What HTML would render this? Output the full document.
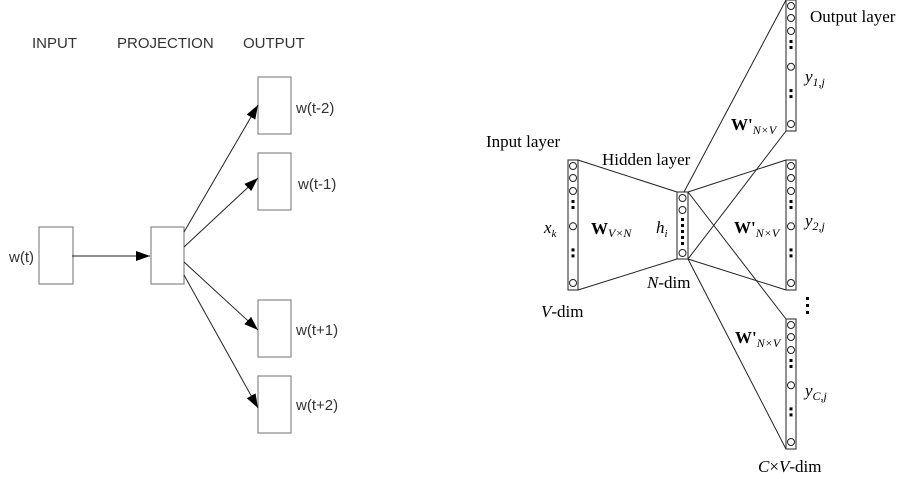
<!DOCTYPE html>
<html><head><meta charset="utf-8"><style>
html,body{margin:0;padding:0;background:#fff;}
svg{display:block;}
.s{font-family:"Liberation Sans",sans-serif;font-size:15px;fill:#333;}
.r{font-family:"Liberation Serif",serif;font-size:17px;fill:#000;}
.b{stroke:#888;stroke-width:1.2;fill:#fff;}
.l{stroke:#222;stroke-width:1;fill:none;}
.c{stroke:#222;stroke-width:1;fill:#fff;}
</style></head><body>
<svg width="913" height="479" viewBox="0 0 913 479">
<defs><marker id="ar" markerWidth="14" markerHeight="10" refX="14" refY="5" orient="auto" markerUnits="userSpaceOnUse"><path d="M0,0 L14,5 L0,10 z" fill="#000"/></marker></defs>
<g>
<text class="s" x="32" y="48">INPUT</text>
<text class="s" x="117" y="48">PROJECTION</text>
<text class="s" x="243" y="48">OUTPUT</text>
<rect class="b" x="39" y="227" width="34" height="57"/>
<rect class="b" x="151" y="227" width="33" height="57"/>
<rect class="b" x="258" y="77" width="33" height="57"/>
<rect class="b" x="258" y="153" width="33" height="57"/>
<rect class="b" x="258" y="300" width="33" height="57"/>
<rect class="b" x="258" y="376" width="33" height="57"/>
<text class="s" x="9" y="262">w(t)</text>
<text class="s" x="296" y="113">w(t-2)</text>
<text class="s" x="298" y="189">w(t-1)</text>
<text class="s" x="296" y="335">w(t+1)</text>
<text class="s" x="296" y="410">w(t+2)</text>
<line class="l" x1="72" y1="256" x2="150" y2="256" marker-end="url(#ar)"/>
<line class="l" x1="184" y1="232" x2="258" y2="105" marker-end="url(#ar)"/>
<line class="l" x1="184" y1="247" x2="258" y2="178" marker-end="url(#ar)"/>
<line class="l" x1="184" y1="262" x2="258" y2="330" marker-end="url(#ar)"/>
<line class="l" x1="184" y1="275" x2="258" y2="408" marker-end="url(#ar)"/>
</g>
<g>
<line class="l" x1="578" y1="160" x2="677" y2="192"/>
<line class="l" x1="578" y1="290" x2="677" y2="259"/>
<line class="l" x1="684" y1="192" x2="786" y2="0"/>
<line class="l" x1="786" y1="131" x2="688" y2="259"/>
<line class="l" x1="688" y1="192" x2="786" y2="160"/>
<line class="l" x1="688" y1="259" x2="786" y2="290"/>
<line class="l" x1="688" y1="192" x2="786" y2="319"/>
<line class="l" x1="688" y1="259" x2="786" y2="449"/>
<g id="cols"></g>
<text class="r" x="810" y="22">Output layer</text>
<text class="r" x="486" y="147">Input layer</text>
<text class="r" x="602" y="165">Hidden layer</text>
<text class="r" x="544" y="233" font-style="italic">x<tspan font-size="11" dy="4">k</tspan></text>
<text class="r" x="591" y="234" font-weight="bold" font-size="19">W<tspan font-weight="normal" font-style="italic" font-size="12" dy="3">V×N</tspan></text>
<text class="r" x="656" y="233" font-style="italic">h<tspan font-size="11" dy="4">i</tspan></text>
<text class="r" x="731" y="130" font-weight="bold" font-size="19">W'<tspan font-weight="normal" font-style="italic" font-size="12" dy="4">N×V</tspan></text>
<text class="r" x="734" y="233" font-weight="bold" font-size="19">W'<tspan font-weight="normal" font-style="italic" font-size="12" dy="4">N×V</tspan></text>
<text class="r" x="735" y="343" font-weight="bold" font-size="19">W'<tspan font-weight="normal" font-style="italic" font-size="12" dy="4">N×V</tspan></text>
<text class="r" x="805" y="82" font-style="italic">y<tspan font-size="12" dy="4">1,j</tspan></text>
<text class="r" x="805" y="226" font-style="italic">y<tspan font-size="12" dy="4">2,j</tspan></text>
<text class="r" x="805" y="396" font-style="italic">y<tspan font-size="12" dy="4">C,j</tspan></text>
<text class="r" x="541" y="317"><tspan font-style="italic">V</tspan>-dim</text>
<text class="r" x="647" y="288"><tspan font-style="italic">N</tspan>-dim</text>
<text class="r" x="758" y="472"><tspan font-style="italic">C</tspan>×<tspan font-style="italic">V</tspan>-dim</text>
<g><rect x="806" y="297" width="3" height="3"/><rect x="806" y="304" width="3" height="3"/><rect x="806" y="311" width="3" height="3"/></g>
</g>
</svg>
<script>
var NS="http://www.w3.org/2000/svg",g=document.getElementById('cols');
function mk(t,a){var e=document.createElementNS(NS,t);for(var k in a)e.setAttribute(k,a[k]);g.appendChild(e);return e;}
function col(x,y0,y1,name){
 var r=mk('rect',{x:x,y:y0,width:10,height:y1-y0,'class':'c'});
 
 
 var h=y1-y0,cx=x+5;
 [6,18,31].forEach(function(d){mk('circle',{cx:cx,cy:y0+d,r:3.5,'class':'c'});});
 mk('rect',{x:cx-1.5,y:y0+40,width:3,height:3});mk('rect',{x:cx-1.5,y:y0+46,width:3,height:3});
 mk('circle',{cx:cx,cy:y0+h*0.51,r:3.5,'class':'c'});
 mk('rect',{x:cx-1.5,y:y0+h*0.68,width:3,height:3});mk('rect',{x:cx-1.5,y:y0+h*0.68+6,width:3,height:3});
 mk('circle',{cx:cx,cy:y1-7,r:3.5,'class':'c'});
}
col(568,160,290,'input-layer-column');
col(786,0,131,'output-layer-1-column');
col(786,160,290,'output-layer-2-column');
col(786,319,449,'output-layer-c-column');
var hr=mk('rect',{x:677,y:192,width:11,height:67,'class':'c'});


[198,210].forEach(function(y){mk('circle',{cx:682.5,cy:y,r:3.5,'class':'c'});});
[218,224,230,236,242].forEach(function(y){mk('rect',{x:681,y:y,width:3,height:3});});
mk('circle',{cx:682.5,cy:253,r:3.5,'class':'c'});
</script>
</body></html>
